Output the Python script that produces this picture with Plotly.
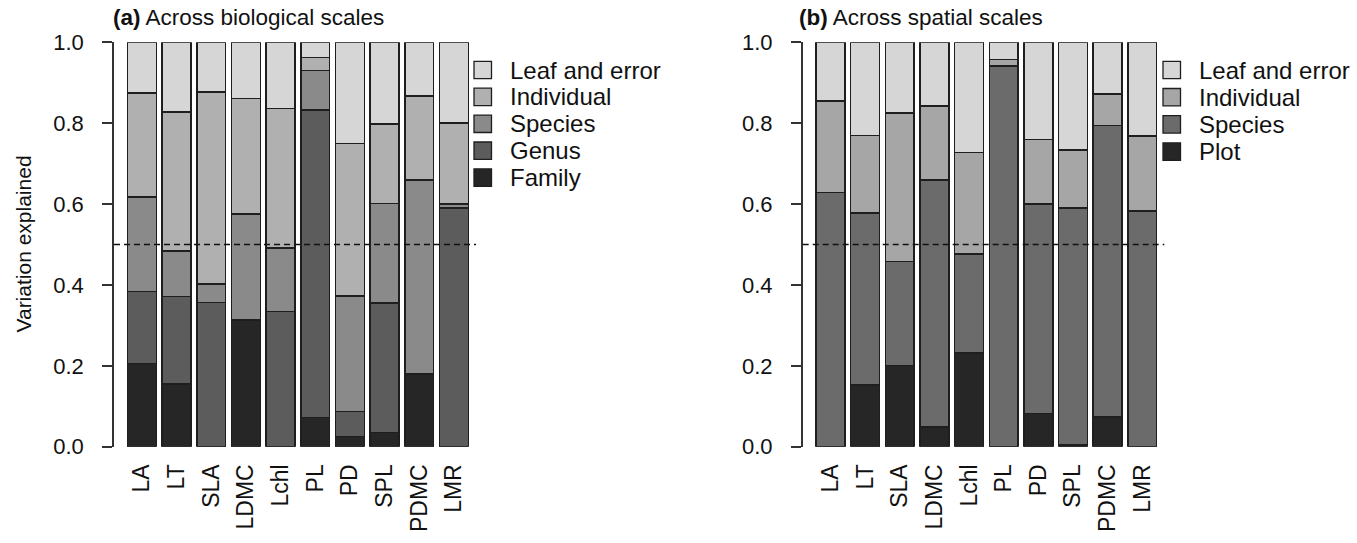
import plotly.graph_objects as go

# ---------------- data ----------------
traits = ["LA", "LT", "SLA", "LDMC", "Lchl", "PL", "PD", "SPL", "PDMC", "LMR"]

# (a) Across biological scales (stack order bottom -> top)
bio_family     = [0.206, 0.155, 0.000, 0.313, 0.000, 0.072, 0.025, 0.035, 0.180, 0.000]
bio_genus      = [0.178, 0.217, 0.357, 0.000, 0.334, 0.761, 0.062, 0.320, 0.000, 0.590]
bio_species    = [0.234, 0.112, 0.045, 0.262, 0.157, 0.097, 0.286, 0.247, 0.480, 0.010]
bio_individual = [0.257, 0.344, 0.475, 0.286, 0.345, 0.033, 0.377, 0.196, 0.207, 0.200]
bio_leaf       = [0.125, 0.172, 0.123, 0.139, 0.164, 0.037, 0.250, 0.202, 0.133, 0.200]

# (b) Across spatial scales (stack order bottom -> top)
sp_plot       = [0.000, 0.152, 0.201, 0.049, 0.232, 0.000, 0.082, 0.004, 0.073, 0.000]
sp_species    = [0.628, 0.426, 0.257, 0.611, 0.245, 0.941, 0.518, 0.586, 0.721, 0.583]
sp_individual = [0.227, 0.192, 0.367, 0.182, 0.251, 0.017, 0.160, 0.144, 0.078, 0.185]
sp_leaf       = [0.145, 0.230, 0.175, 0.158, 0.272, 0.042, 0.240, 0.266, 0.128, 0.232]

y_ticks = [0.0, 0.2, 0.4, 0.6, 0.8, 1.0]
ref_line = 0.5

bio_series = [
    ("Family", bio_family, "#262626"),
    ("Genus", bio_genus, "#5c5c5c"),
    ("Species", bio_species, "#8a8a8a"),
    ("Individual", bio_individual, "#b0b0b0"),
    ("Leaf and error", bio_leaf, "#d6d6d6"),
]
sp_series = [
    ("Plot", sp_plot, "#262626"),
    ("Species", sp_species, "#6b6b6b"),
    ("Individual", sp_individual, "#a6a6a6"),
    ("Leaf and error", sp_leaf, "#d6d6d6"),
]

# ---------------- layout helpers ----------------
W, H = 1357, 543
FONT = "Liberation Sans, Arial, Helvetica, sans-serif"
def px(x):
    return x / W
def py(y):
    return 1 - y / H

fig = go.Figure()

for name, vals, col in bio_series:
    fig.add_trace(go.Bar(x=traits, y=vals, name=name, marker=dict(color=col, line=dict(color="#1e1e1e", width=1.5)),
                         xaxis="x", yaxis="y", showlegend=False))
for name, vals, col in sp_series:
    fig.add_trace(go.Bar(x=traits, y=vals, name=name, marker=dict(color=col, line=dict(color="#1e1e1e", width=1.5)),
                         xaxis="x2", yaxis="y2", showlegend=False))

ydom = [py(446.7), py(42.3)]
xcommon = dict(range=[-0.8033, 9.6367], showgrid=False, zeroline=False, showline=False, automargin=False,
               tickangle=-90, ticks="", ticklabelstandoff=12,
               tickfont=dict(family=FONT, size=23, color="#111"))
ycommon = dict(range=[0, 1], tickvals=y_ticks, ticktext=["%.1f" % v for v in y_ticks], automargin=False,
               showgrid=False, zeroline=False, showline=True, linecolor="#333", linewidth=1.5,
               ticks="outside", ticklen=10, tickwidth=1.5, tickcolor="#333", ticklabelstandoff=14,
               tickfont=dict(family=FONT, size=22, color="#111"))

fig.update_layout(
    width=W, height=H,
    margin=dict(l=0, r=0, t=0, b=0, autoexpand=False),
    paper_bgcolor="white", plot_bgcolor="white",
    barmode="stack", bargap=1/6,
    xaxis=dict(domain=[px(114), px(476)], anchor="y", **xcommon),
    yaxis=dict(domain=ydom, anchor="x", **ycommon),
    xaxis2=dict(domain=[px(802.7), px(1164.3)], anchor="y2", **xcommon),
    yaxis2=dict(domain=ydom, anchor="x2", **ycommon),
)

shapes = []
annotations = []
# dashed reference lines
for xr, yr in (("x", "y"), ("x2", "y2")):
    shapes.append(dict(type="line", xref=xr + " domain", yref=yr, x0=0, x1=1, y0=ref_line, y1=ref_line,
                       line=dict(color="#111", width=1.5, dash="6px,4px")))

# manual legends (top entry first)
def add_legend(series, sq_x, text_x, y0, dy):
    for i, (name, _, col) in enumerate(reversed(series)):
        yc = y0 + i * dy
        shapes.append(dict(type="rect", xref="paper", yref="paper",
                           x0=px(sq_x), x1=px(sq_x + 17.5), y0=py(yc + 8.7), y1=py(yc - 8.7),
                           fillcolor=col, line=dict(color="#1e1e1e", width=1.3)))
        annotations.append(dict(xref="paper", yref="paper", x=px(text_x), y=py(yc), text=name,
                                showarrow=False, xanchor="left", yanchor="middle",
                                font=dict(family=FONT, size=24, color="#111")))

add_legend(bio_series, 474, 508, 70, 26.9)
add_legend(sp_series, 1163, 1197, 70, 27.2)

# titles
annotations.append(dict(xref="paper", yref="paper", x=px(111), y=py(17), text="<b>(a)</b> Across biological scales",
                        showarrow=False, xanchor="left", yanchor="middle", font=dict(family=FONT, size=22.5, color="#111")))
annotations.append(dict(xref="paper", yref="paper", x=px(797), y=py(17), text="<b>(b)</b> Across spatial scales",
                        showarrow=False, xanchor="left", yanchor="middle", font=dict(family=FONT, size=22.5, color="#111")))
# y-axis title
annotations.append(dict(xref="paper", yref="paper", x=px(23), y=py(244.5), text="Variation explained", textangle=-90,
                        showarrow=False, xanchor="center", yanchor="middle", font=dict(family=FONT, size=21, color="#111")))

fig.update_layout(shapes=shapes, annotations=annotations)
fig.write_html("out.html")
